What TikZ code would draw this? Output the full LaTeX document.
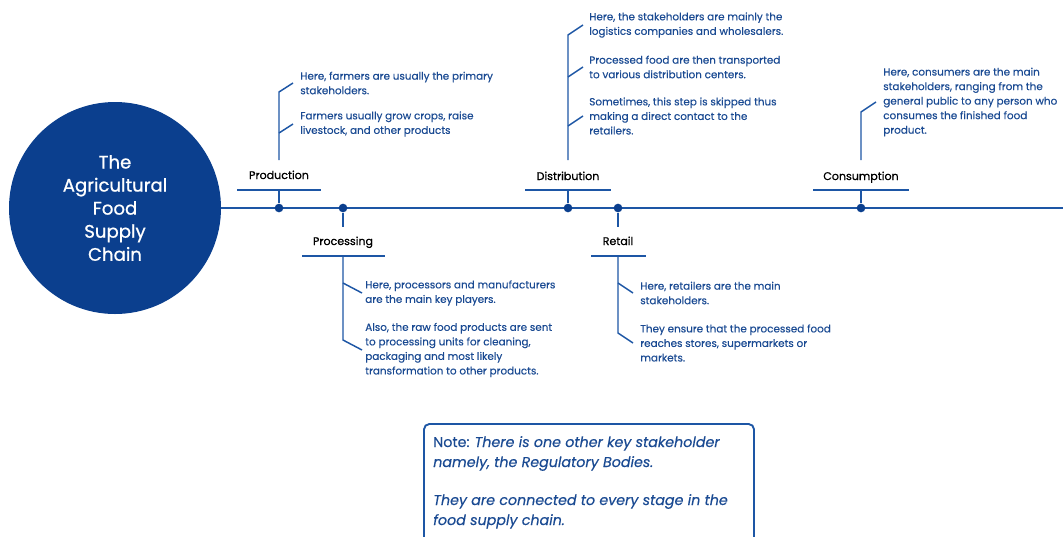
\documentclass[tikz,border=0pt]{standalone}
\usepackage{fontspec}
\setmainfont{Poppins}
\newfontfamily\heavier[FakeBold=0.8]{Poppins}
\newfontfamily\lightheavy[FakeBold=0.35]{Poppins}
\definecolor{hubblue}{HTML}{0B3F8E}
\definecolor{linkblue}{HTML}{1D56A5}
\definecolor{noteblue}{HTML}{1A4A92}
\begin{document}
\begin{tikzpicture}[x=0.75pt,y=-0.75pt,
  spine/.style={draw=linkblue, line width=1.5pt},
  stem/.style={draw=linkblue, line width=1.1pt},
  joint/.style={circle, fill=hubblue, inner sep=0pt, minimum size=6.5pt},
  stage/.style={font=\heavier\fontsize{8.3}{9}\selectfont, text=black, inner sep=0pt, anchor=base},
  detail/.style={font=\lightheavy\fontsize{7.8}{10.9}\selectfont, text=noteblue, align=left, inner sep=0pt, anchor=west},
  notetext/.style={font=\lightheavy\fontsize{10.7}{15}\selectfont, text=noteblue, align=left, inner sep=0pt, anchor=base west},
]
\useasboundingbox (0,0) rectangle (1063,536);
\clip (0,0) rectangle (1063,536);

% central hub
\node[circle, fill=hubblue, minimum size=159pt, inner sep=0pt, text=white, align=center,
      font=\heavier\fontsize{13.6}{17.3}\selectfont] (hub) at (115,208)
      {The\\Agricultural\\Food\\Supply\\Chain};
\coordinate (spineEnd) at (1063,208);
\draw[spine] (hub.east) -- (spineEnd);

% ---------- Production (above) ----------
\node[joint] (prodDot) at (279,208) {};
\node[stage] (prodLbl) at (279,179) {Production};
\coordinate (prodBarL) at (237,190); \coordinate (prodBarR) at (321,190);
\coordinate (prodBar) at (279,190);
\coordinate (prodTop) at (279,92); \coordinate (prodBase) at (279,160);
\coordinate (prodJ2) at (279,133);
\coordinate (prodT1) at (293,83); \coordinate (prodT2) at (293,124);
\draw[stem] (prodBarL) -- (prodBarR);
\draw[stem] (prodBar) -- (prodDot);
\draw[stem] (prodBase) -- (prodTop) -- (prodT1);
\draw[stem] (prodJ2) -- (prodT2);
\node[detail] (prodA) at (300,83) {Here, farmers are usually the primary\\stakeholders.};
\node[detail] (prodB) at (300,124) {Farmers usually grow crops, raise\\livestock, and other products};

% ---------- Processing (below) ----------
\node[joint] (procDot) at (343,208) {};
\coordinate (procStub) at (343,227);
\draw[stem] (procDot) -- (procStub);
\node[stage] (procLbl) at (343,245) {Processing};
\coordinate (procBarL) at (302,256); \coordinate (procBarR) at (385,256);
\coordinate (procBar) at (343,256);
\coordinate (procJ1) at (343,283); \coordinate (procBottom) at (343,340);
\coordinate (procT1) at (362,293); \coordinate (procT2) at (362,350);
\draw[stem] (procBarL) -- (procBarR);
\draw[stem] (procBar) -- (procBottom) -- (procT2);
\draw[stem] (procJ1) -- (procT1);
\node[detail] (procA) at (365,293) {Here, processors and manufacturers\\are the main key players.};
\node[detail] (procB) at (365,350) {Also, the raw food products are sent\\to processing units for cleaning,\\packaging and most likely\\transformation to other products.};

% ---------- Distribution (above) ----------
\node[joint] (distDot) at (568,208) {};
\node[stage] (distLbl) at (568,180) {Distribution};
\coordinate (distBarL) at (525,190); \coordinate (distBarR) at (611,190);
\coordinate (distBar) at (568,190);
\coordinate (distTop) at (568,35); \coordinate (distBase) at (568,160);
\coordinate (distJ2) at (568,77); \coordinate (distJ3) at (568,126);
\coordinate (distT1) at (583,25); \coordinate (distT2) at (583,67); \coordinate (distT3) at (583,116);
\draw[stem] (distBarL) -- (distBarR);
\draw[stem] (distBar) -- (distDot);
\draw[stem] (distBase) -- (distTop) -- (distT1);
\draw[stem] (distJ2) -- (distT2);
\draw[stem] (distJ3) -- (distT3);
\node[detail] (distA) at (589,25) {Here, the stakeholders are mainly the\\logistics companies and wholesalers.};
\node[detail] (distB) at (589,67) {Processed food are then transported\\to various distribution centers.};
\node[detail] (distC) at (589,116) {Sometimes, this step is skipped thus\\making a direct contact to the\\retailers.};

% ---------- Retail (below) ----------
\node[joint] (retDot) at (618,208) {};
\coordinate (retStub) at (618,227);
\draw[stem] (retDot) -- (retStub);
\node[stage] (retLbl) at (618,245) {Retail};
\coordinate (retBarL) at (591,256); \coordinate (retBarR) at (646,256);
\coordinate (retBar) at (618,256);
\coordinate (retJ1) at (618,283); \coordinate (retBottom) at (618,333);
\coordinate (retT1) at (633,293); \coordinate (retT2) at (633,343);
\draw[stem] (retBarL) -- (retBarR);
\draw[stem] (retBar) -- (retBottom) -- (retT2);
\draw[stem] (retJ1) -- (retT1);
\node[detail] (retA) at (640,293) {Here, retailers are the main\\stakeholders.};
\node[detail] (retB) at (640,343) {They ensure that the processed food\\reaches stores, supermarkets or\\markets.};

% ---------- Consumption (above) ----------
\node[joint] (consDot) at (861,208) {};
\node[stage] (consLbl) at (861,180) {Consumption};
\coordinate (consBarL) at (813,190); \coordinate (consBarR) at (909,190);
\coordinate (consBar) at (861,190);
\coordinate (consTop) at (861,112); \coordinate (consBase) at (861,160);
\coordinate (consT1) at (876,102);
\draw[stem] (consBarL) -- (consBarR);
\draw[stem] (consBar) -- (consDot);
\draw[stem] (consBase) -- (consTop) -- (consT1);
\node[detail] (consA) at (883,102) {Here, consumers are the main\\stakeholders, ranging from the\\general public to any person who\\consumes the finished food\\product.};

% ---------- note box ----------
\draw[draw=linkblue, line width=1.4pt, rounded corners=4pt] (424,424) rectangle (754,560);
\node[notetext] (noteA) at (433,467) {Note: \itshape There is one other key stakeholder\\\itshape namely, the Regulatory Bodies.};
\node[notetext] (noteB) at (433,525) {\itshape They are connected to every stage in the\\\itshape food supply chain.};
\end{tikzpicture}
\end{document}
